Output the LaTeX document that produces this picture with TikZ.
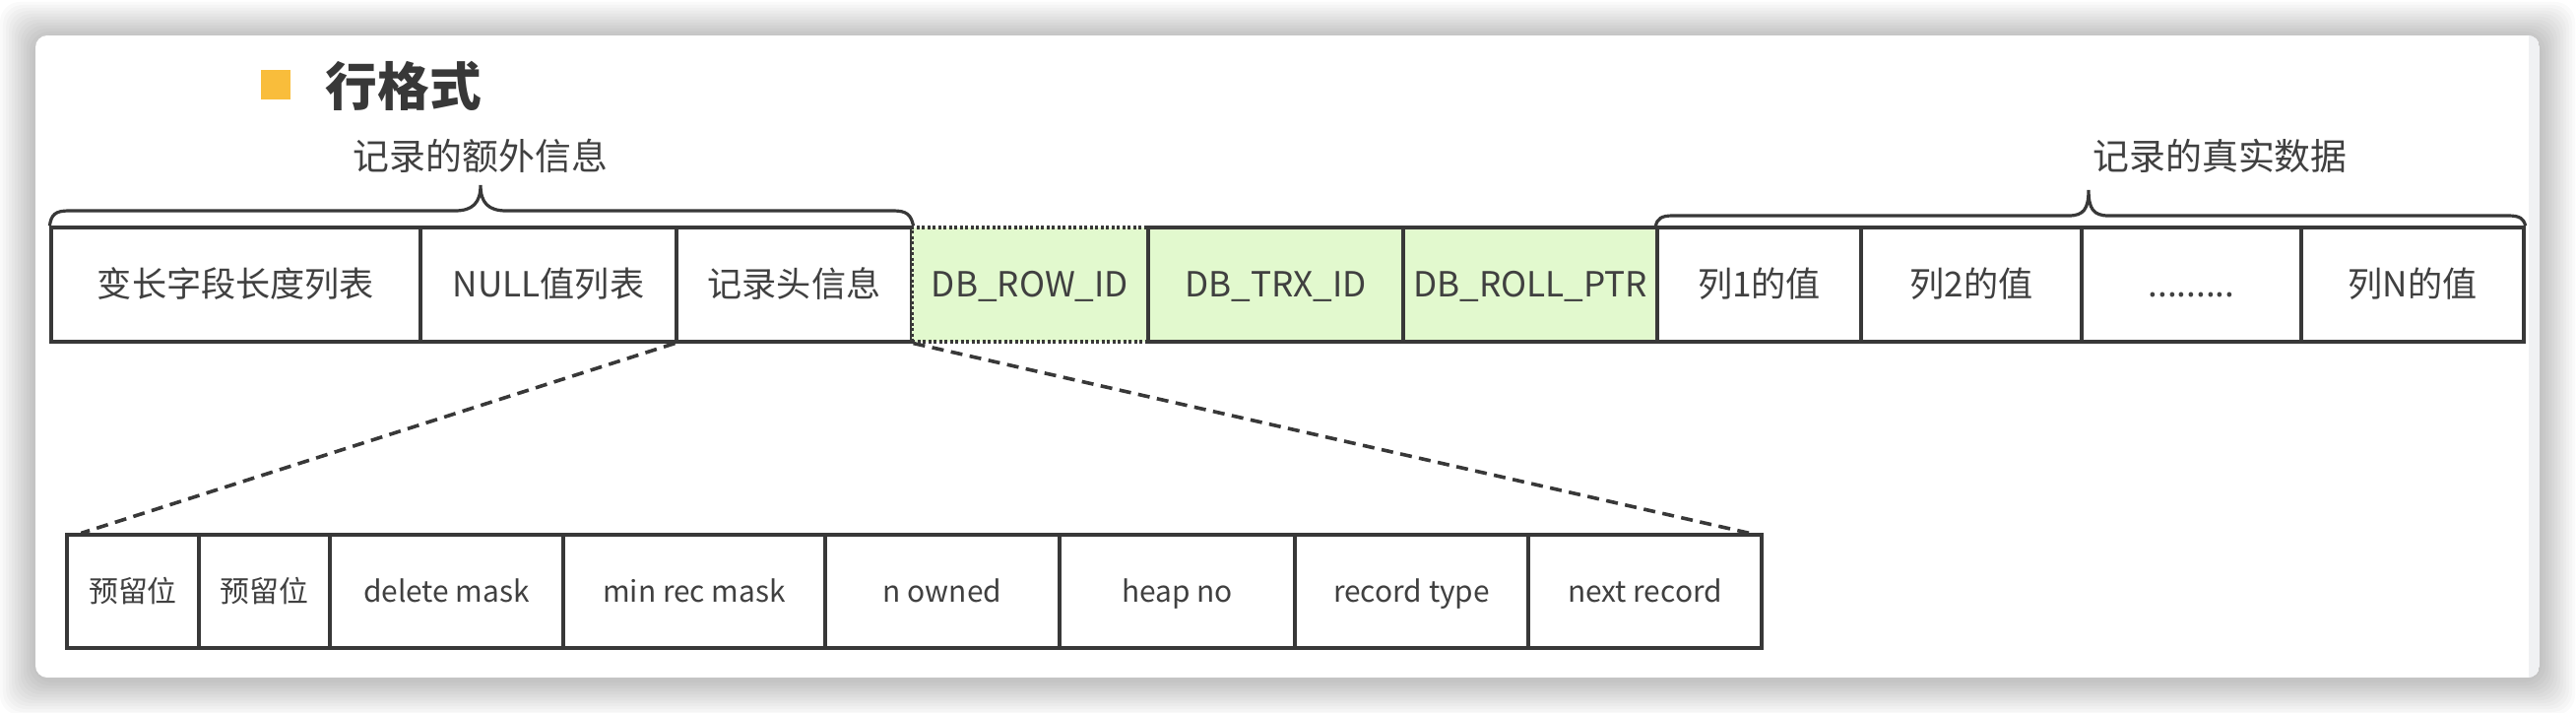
\documentclass[tikz,border=0pt]{standalone}
\usepackage{fontspec}
\setmainfont{Noto Sans CJK SC}
\definecolor{linegray}{RGB}{56,56,56}
\definecolor{textgray}{RGB}{64,64,64}
\definecolor{rowgreen}{RGB}{226,249,206}
\definecolor{bulletyellow}{RGB}{249,189,59}
\definecolor{stripgray}{RGB}{240,241,243}

\begin{document}
\begin{tikzpicture}[x=0.1mm, y=-0.1mm,
    cell/.style={draw=linegray, line width=0.32mm, minimum height=11.6mm, inner sep=0pt, text height=2.9mm, text depth=0.4mm, text=textgray, font=\fontsize{10pt}{12pt}\selectfont},
    greencell/.style={cell, fill=rowgreen},
    bitcell/.style={cell, minimum height=11.5mm, text height=2.5mm, text depth=0.36mm, font=\fontsize{8.5pt}{10pt}\selectfont},
    brace/.style={draw=linegray, line width=0.32mm},
    zoomline/.style={draw=linegray, line width=0.36mm, dash pattern=on 1.2mm off 0.75mm}]
  \useasboundingbox (0,0) rectangle (2616,724);
  \fill[white] (0,0) rectangle (2616,724);
  % card with its shadow
  \foreach \s in {1,...,12}
    \fill[black, opacity=0.02, rounded corners=2mm] ({36-3*\s},{38-3*\s}) rectangle ({2579+3*\s},{690+3*\s});
  \begin{scope}
    \clip[rounded corners=1.2mm] (36,36) rectangle (2579,688);
    \fill[white] (36,36) rectangle (2579,688);
    \fill[stripgray] (2568,36) rectangle (2579,688);
  \end{scope}

  % title
  \node[fill=bulletyellow, minimum size=3mm, inner sep=0pt] (bullet) at (280,86) {};
  \node[anchor=west, inner sep=0pt, text=linegray, font=\fontsize{15pt}{18pt}\selectfont\bfseries] (title) at (330,87) {行格式};

  % record row
  \node[cell, minimum width=37.5mm] (varlen) at (239.5,289) {变长字段长度列表};
  \node[cell, minimum width=26mm] (nulllist) at (557,289) {NULL值列表};
  \node[cell, minimum width=23.9mm] (rechead) at (806.5,289) {记录头信息};
  \node[greencell, dash pattern=on 0.3mm off 0.25mm, minimum width=24mm] (rowid) at (1046,289) {DB\_ROW\_ID};
  \node[greencell, minimum width=25.9mm] (trxid) at (1295.5,289) {DB\_TRX\_ID};
  \node[greencell, minimum width=25.8mm] (rollptr) at (1554,289) {DB\_ROLL\_PTR};
  \node[cell, minimum width=20.7mm] (col1) at (1786.5,289) {列1的值};
  \node[cell, minimum width=22.4mm] (col2) at (2002,289) {列2的值};
  \node[cell, minimum width=22.3mm] (coldots) at (2225.5,289) {.........};
  \node[cell, minimum width=22.6mm] (colN) at (2450,289) {列N的值};

  % braces and their labels
  \node[text=textgray, font=\fontsize{10.5pt}{13pt}\selectfont] (extralabel) at (488,158) {记录的额外信息};
  \node[anchor=west, text=textgray, font=\fontsize{10.5pt}{13pt}\selectfont] (datalabel) at (2113,158) {记录的真实数据};
  \draw[brace] (varlen.north west) .. controls (52,218) and (56,214) .. (70,214) -- (462,214)
    .. controls (480,214) and (488,206) .. (488,188) .. controls (488,206) and (496,214) .. (514,214)
    -- (907,214) .. controls (921,214) and (925,218) .. (rechead.north east);
  \draw[brace] (col1.north west) .. controls (1683,222) and (1687,219) .. (1699,219) -- (2101,219)
    .. controls (2116,219) and (2121,212) .. (2121,193) .. controls (2121,212) and (2126,219) .. (2141,219)
    -- (2547,219) .. controls (2559,219) and (2563,222) .. (colN.north east);

  % record header bits
  \node[bitcell, minimum width=13.4mm] (res1) at (135,600.5) {预留位};
  \node[bitcell, minimum width=13.3mm] (res2) at (268.5,600.5) {预留位};
  \node[bitcell, minimum width=23.7mm] (delmask) at (453.5,600.5) {delete mask};
  \node[bitcell, minimum width=26.6mm] (minrec) at (705,600.5) {min rec mask};
  \node[bitcell, minimum width=23.8mm] (nowned) at (957,600.5) {n owned};
  \node[bitcell, minimum width=23.9mm] (heapno) at (1195.5,600.5) {heap no};
  \node[bitcell, minimum width=23.7mm] (rectype) at (1433.5,600.5) {record type};
  \node[bitcell, minimum width=23.7mm] (nextrec) at (1670.5,600.5) {next record};

  \draw[zoomline] (rechead.south west) -- ([xshift=1.6mm]res1.north west);
  \draw[zoomline] (rechead.south east) -- ([xshift=-1.4mm]nextrec.north east);
\end{tikzpicture}
\end{document}
